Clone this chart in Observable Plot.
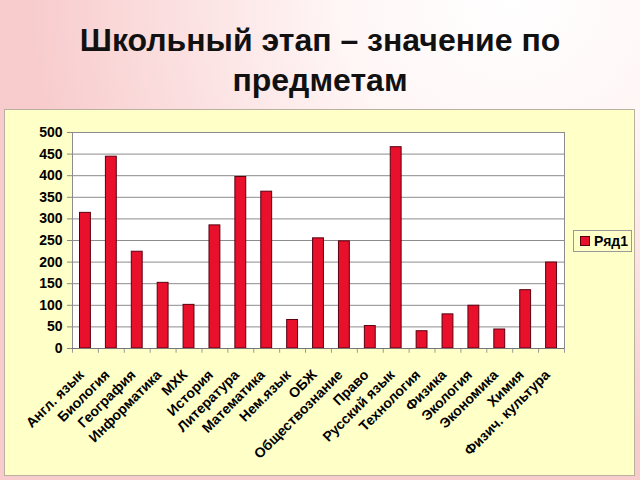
<!DOCTYPE html>
<html><head><meta charset="utf-8">
<script src="https://cdn.jsdelivr.net/npm/d3@7"></script>
<script src="https://cdn.jsdelivr.net/npm/@observablehq/plot@0.6"></script>
<style>
body{margin:0;}
#page{position:relative;width:640px;height:480px;overflow:hidden;
  background:radial-gradient(ellipse 90% 110% at 80% 0%, #ffffff 0%, #fff6f6 30%, #f8cbcc 85%);
  font-family:"Liberation Sans",Arial,sans-serif;}
#title{position:absolute;left:0;top:20px;width:640px;text-align:center;font-weight:bold;font-size:32px;line-height:40px;color:#111;}
#panel{position:absolute;left:4px;top:109px;width:629px;height:365px;background:#ffffc8;border:1px solid #b8b0a0;}
#chart{position:absolute;left:4px;top:109px;}
#legend{position:absolute;left:573px;top:230px;width:59px;height:22px;border:1px solid #999;box-sizing:border-box;
  font-weight:bold;font-size:14px;line-height:20px;}
#legend .sw{display:inline-block;width:8px;height:8px;background:#e8102a;border:1px solid #5a0010;margin:0 4px 0 6px;vertical-align:0px;}
</style></head>
<body>
<div id="page">
  <div id="title">Школьный этап – значение по<br>предметам</div>
  <div id="panel"></div>
  <div id="chart"></div>
  <div id="legend"><span class="sw"></span><span id="lgtext"></span></div>
</div>
<script>
const subjects = ["Англ. язык","Биология","География","Информатика","МХК","История","Литература","Математика","Нем.язык","ОБЖ","Обществознание","Право","Русский язык","Технология","Физика","Экология","Экономика","Химия","Физич. культура"];
const values = [314,444,224,152,101,285,397,363,66,255,248,52,466,40,79,99,44,135,199];
const yTicks = [0,50,100,150,200,250,300,350,400,450,500];
const seriesName = "Ряд1";

const data = subjects.map((s,i)=>({subject:s, value:values[i]}));
document.getElementById("lgtext").textContent = seriesName;

const W = 630, H = 366, mL = 68, mR = 70;
const step = (W - mL - mR) / subjects.length;

const chart = Plot.plot({
  width: W, height: H,
  marginLeft: mL, marginRight: mR, marginTop: 23, marginBottom: 127,
  style: {background:"transparent", fontFamily:"'Liberation Sans', Arial, sans-serif", color:"#000"},
  x: {domain: subjects, paddingInner: 0.58, paddingOuter: 0.29, round: false, label: null},
  y: {domain: [0,500], label: null},
  marks: [
    Plot.frame({fill:"white", stroke:"#8c8c8c"}),
    Plot.ruleY(yTicks, {stroke:"#8c8c8c"}),
    Plot.barY(data, {x:"subject", y:"value", fill:"#e8102a", stroke:"#5a0010", strokeWidth:1}),
    Plot.ruleX(subjects, {x: d=>d, dx: -step/2, y1: 0, y2: -11, stroke:"#999"}),
    Plot.ruleX(subjects.slice(-1), {x: d=>d, dx: step/2, y1: 0, y2: -11, stroke:"#999"}),
    Plot.ruleY([0], {stroke:"#777"}),
    Plot.axisY({ticks: yTicks, tickSize: 5, tickPadding: 5, fontSize: 14, fontWeight: "bold", stroke:"#888", fill:"#000", label:null}),
    Plot.axisX({tickRotate: -45, tickSize: 0, tickPadding: 24, dx: -4, fontSize: 14, fontWeight: "bold", fill:"#000", label:null})
  ]
});
document.getElementById("chart").appendChild(chart);
</script>
</body></html>
